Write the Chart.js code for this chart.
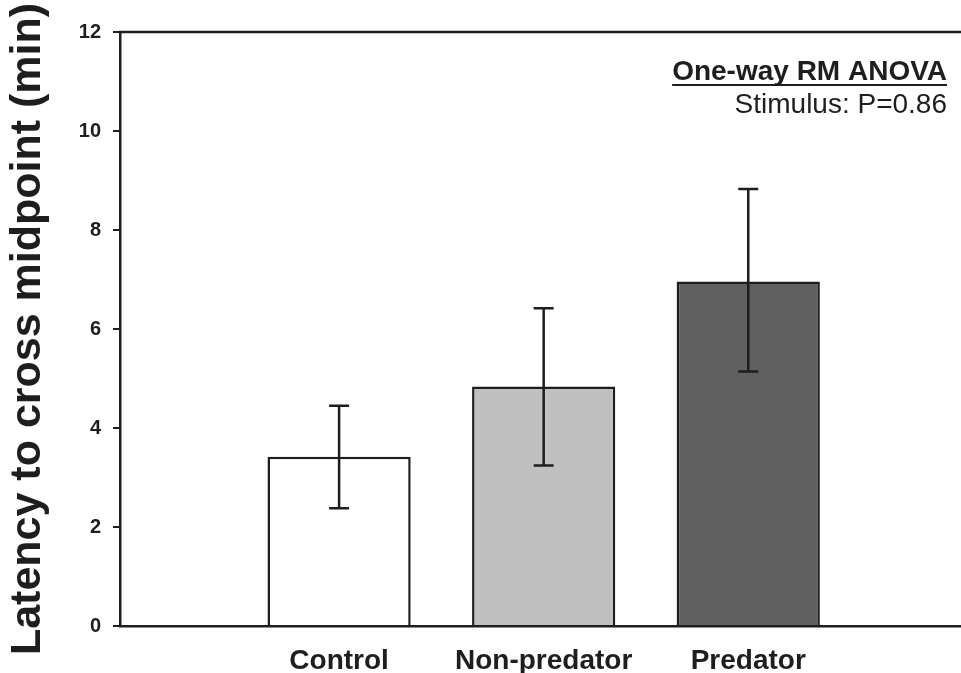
<!DOCTYPE html>
<html lang="en">
<head>
    <meta charset="UTF-8">
    <title>Latency to cross midpoint</title>
    <style>
        body {
            margin: 0;
            background-color: #fff;
        }
        canvas {
            display: block;
        }
    </style>
</head>
<body>

<canvas id="latencyChart" width="961" height="673"></canvas>

<script src="https://cdn.jsdelivr.net/npm/chart.js"></script>
<script>
    // data
    const categories = ['Control', 'Non-predator', 'Predator'];
    const positions = [1, 2, 3];
    const means = [3.42, 4.84, 6.96];
    const errLow = [2.38, 3.24, 5.14];
    const errHigh = [4.45, 6.42, 8.83];
    const barColors = ['#ffffff', '#c0c0c0', '#606060'];
    const yTicks = [0, 2, 4, 6, 8, 10, 12];

    const FONT = "Arial, 'Liberation Sans', sans-serif";
    const INK = '#1e1e1e';

    // error bars drawn from the errLow / errHigh arrays
    const errorBars = {
        id: 'errorBars',
        afterDatasetsDraw(chart) {
            const ctx = chart.ctx;
            const y = chart.scales.y;
            const meta = chart.getDatasetMeta(0);
            ctx.save();
            ctx.strokeStyle = INK;
            ctx.lineWidth = 2.5;
            meta.data.forEach((bar, i) => {
                const top = y.getPixelForValue(errHigh[i]);
                const bot = y.getPixelForValue(errLow[i]);
                ctx.beginPath();
                ctx.moveTo(bar.x, top);
                ctx.lineTo(bar.x, bot);
                ctx.moveTo(bar.x - 10, top);
                ctx.lineTo(bar.x + 10, top);
                ctx.moveTo(bar.x - 10, bot);
                ctx.lineTo(bar.x + 10, bot);
                ctx.stroke();
            });
            ctx.restore();
        }
    };

    // top frame line and the statistics note
    const frameAndNote = {
        id: 'frameAndNote',
        afterDraw(chart) {
            const ctx = chart.ctx;
            const a = chart.chartArea;
            ctx.save();
            ctx.strokeStyle = INK;
            ctx.lineWidth = 2.5;
            ctx.beginPath();
            ctx.moveTo(a.left - 1, a.top);
            ctx.lineTo(a.right, a.top);
            ctx.stroke();

            const rx = a.right - 14;
            ctx.fillStyle = INK;
            ctx.textAlign = 'right';
            ctx.textBaseline = 'alphabetic';
            ctx.font = 'bold 28px ' + FONT;
            const head = 'One-way RM ANOVA';
            ctx.fillText(head, rx, a.top + 48);
            const w = ctx.measureText(head).width;
            ctx.lineWidth = 2;
            ctx.beginPath();
            ctx.moveTo(rx - w, a.top + 53);
            ctx.lineTo(rx, a.top + 53);
            ctx.stroke();

            ctx.font = '28px ' + FONT;
            ctx.fillText('Stimulus: P=0.86', rx, a.top + 81);
            ctx.restore();
        }
    };

    const config = {
        type: 'bar',
        data: {
            datasets: [{
                data: positions.map((p, i) => ({ x: p, y: means[i] })),
                backgroundColor: barColors,
                borderColor: INK,
                borderWidth: 2.5,
                categoryPercentage: 1,
                barPercentage: 0.7
            }]
        },
        options: {
            responsive: false,
            animation: false,
            layout: { padding: { top: 32, right: 0, left: 0, bottom: 0 } },
            plugins: {
                legend: { display: false },
                tooltip: { enabled: false }
            },
            scales: {
                x: {
                    type: 'linear',
                    offset: false,
                    min: -0.071,
                    max: 4.04,
                    afterBuildTicks: s => { s.ticks = positions.map(v => ({ value: v })); },
                    afterFit: s => { s.height = 47; },
                    grid: { display: false },
                    border: { color: INK, width: 2.5 },
                    ticks: {
                        autoSkip: false,
                        maxRotation: 0,
                        padding: 10,
                        color: INK,
                        font: { family: FONT, size: 28, weight: 'bold' },
                        callback: v => categories[positions.indexOf(v)]
                    }
                },
                y: {
                    min: 0,
                    max: 12,
                    afterBuildTicks: s => { s.ticks = yTicks.map(v => ({ value: v })); },
                    afterFit: s => { s.width = 120; },
                    grid: {
                        drawOnChartArea: false,
                        drawTicks: true,
                        tickLength: 7,
                        color: INK,
                        lineWidth: 2
                    },
                    border: { color: INK, width: 2.5 },
                    ticks: {
                        padding: 12,
                        color: INK,
                        font: { family: FONT, size: 20, weight: 'bold' }
                    },
                    title: {
                        display: true,
                        text: 'Latency to cross midpoint (min)',
                        color: INK,
                        font: { family: FONT, size: 43, weight: 'bold' },
                        padding: { top: 2, bottom: 0 }
                    }
                }
            }
        },
        plugins: [errorBars, frameAndNote]
    };

    window.onload = function() {
        const ctx = document.getElementById('latencyChart').getContext('2d');
        window.latencyChart = new Chart(ctx, config);
    };
</script>

</body>
</html>
